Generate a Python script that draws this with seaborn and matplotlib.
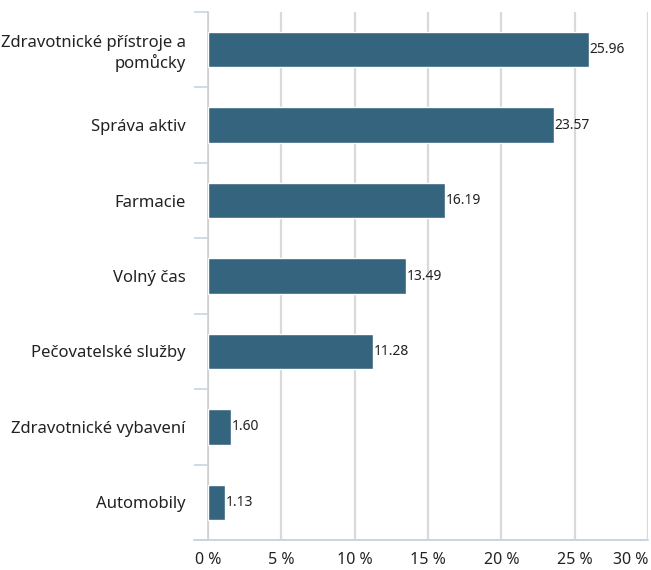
import matplotlib
matplotlib.use('Agg')
import matplotlib.pyplot as plt
from matplotlib.ticker import FixedLocator
import pandas as pd
import seaborn as sns

# data
categories = ['Zdravotnické přístroje a\npomůcky', 'Správa aktiv', 'Farmacie',
              'Volný čas', 'Pečovatelské služby', 'Zdravotnické vybavení', 'Automobily']
values = [25.96, 23.57, 16.19, 13.49, 11.28, 1.60, 1.13]
x_ticks = [0, 5, 10, 15, 20, 25, 30]
x_tick_labels = ['0 %', '5 %', '10 %', '15 %', '20 %', '25 %', '30 %']

df = pd.DataFrame({'Sektor': categories, 'Podíl': values})

sns.set_style('white')
plt.rcParams['font.family'] = ['Noto Sans', 'DejaVu Sans']

fig = plt.figure(figsize=(6.51, 5.70), dpi=100)
ax = fig.add_axes([208 / 651, 30 / 570, 440 / 651, 528 / 570])

sns.barplot(data=df, x='Podíl', y='Sektor', orient='h', color='#35647e',
            width=0.47, saturation=1, ax=ax, zorder=3)

ax.set_xlim(0, 30)
ax.set_ylim(len(categories) - 0.5, -0.5)
ax.set_xticks(x_ticks)
ax.set_xticklabels(x_tick_labels, fontsize=11.5, color='#222222')
ax.get_xticklabels()[-1].set_horizontalalignment('right')
ax.get_xticklabels()[-1].set_x(30.4)
ax.xaxis.grid(True, color='#d9d9d9', linewidth=1.6, zorder=0)
ax.set_axisbelow(True)
ax.tick_params(axis='x', length=0, pad=9)

ax.set_xlabel('')
ax.set_ylabel('')
ax.tick_params(axis='y', which='major', length=0, pad=16, labelsize=12, labelcolor='#222222')
ax.yaxis.set_minor_locator(FixedLocator([i - 0.5 for i in range(len(categories) + 1)]))
ax.tick_params(axis='y', which='minor', length=10, width=1.2, color='#c8d4e3', left=True)

for s in ['top', 'right', 'bottom']:
    ax.spines[s].set_visible(False)
ax.spines['left'].set_color('#d0d0d0')
ax.spines['left'].set_linewidth(1.2)
ax.plot([-14 / 440, 1], [0, 0], transform=ax.transAxes, color='#c8d4e3',
        linewidth=1.4, clip_on=False, zorder=4)

for i, v in enumerate(values):
    ax.text(v + 0.05, i, f'{v:.2f}', va='center', ha='left', fontsize=10, color='#222222')

plt.savefig('out.png', dpi=100)
